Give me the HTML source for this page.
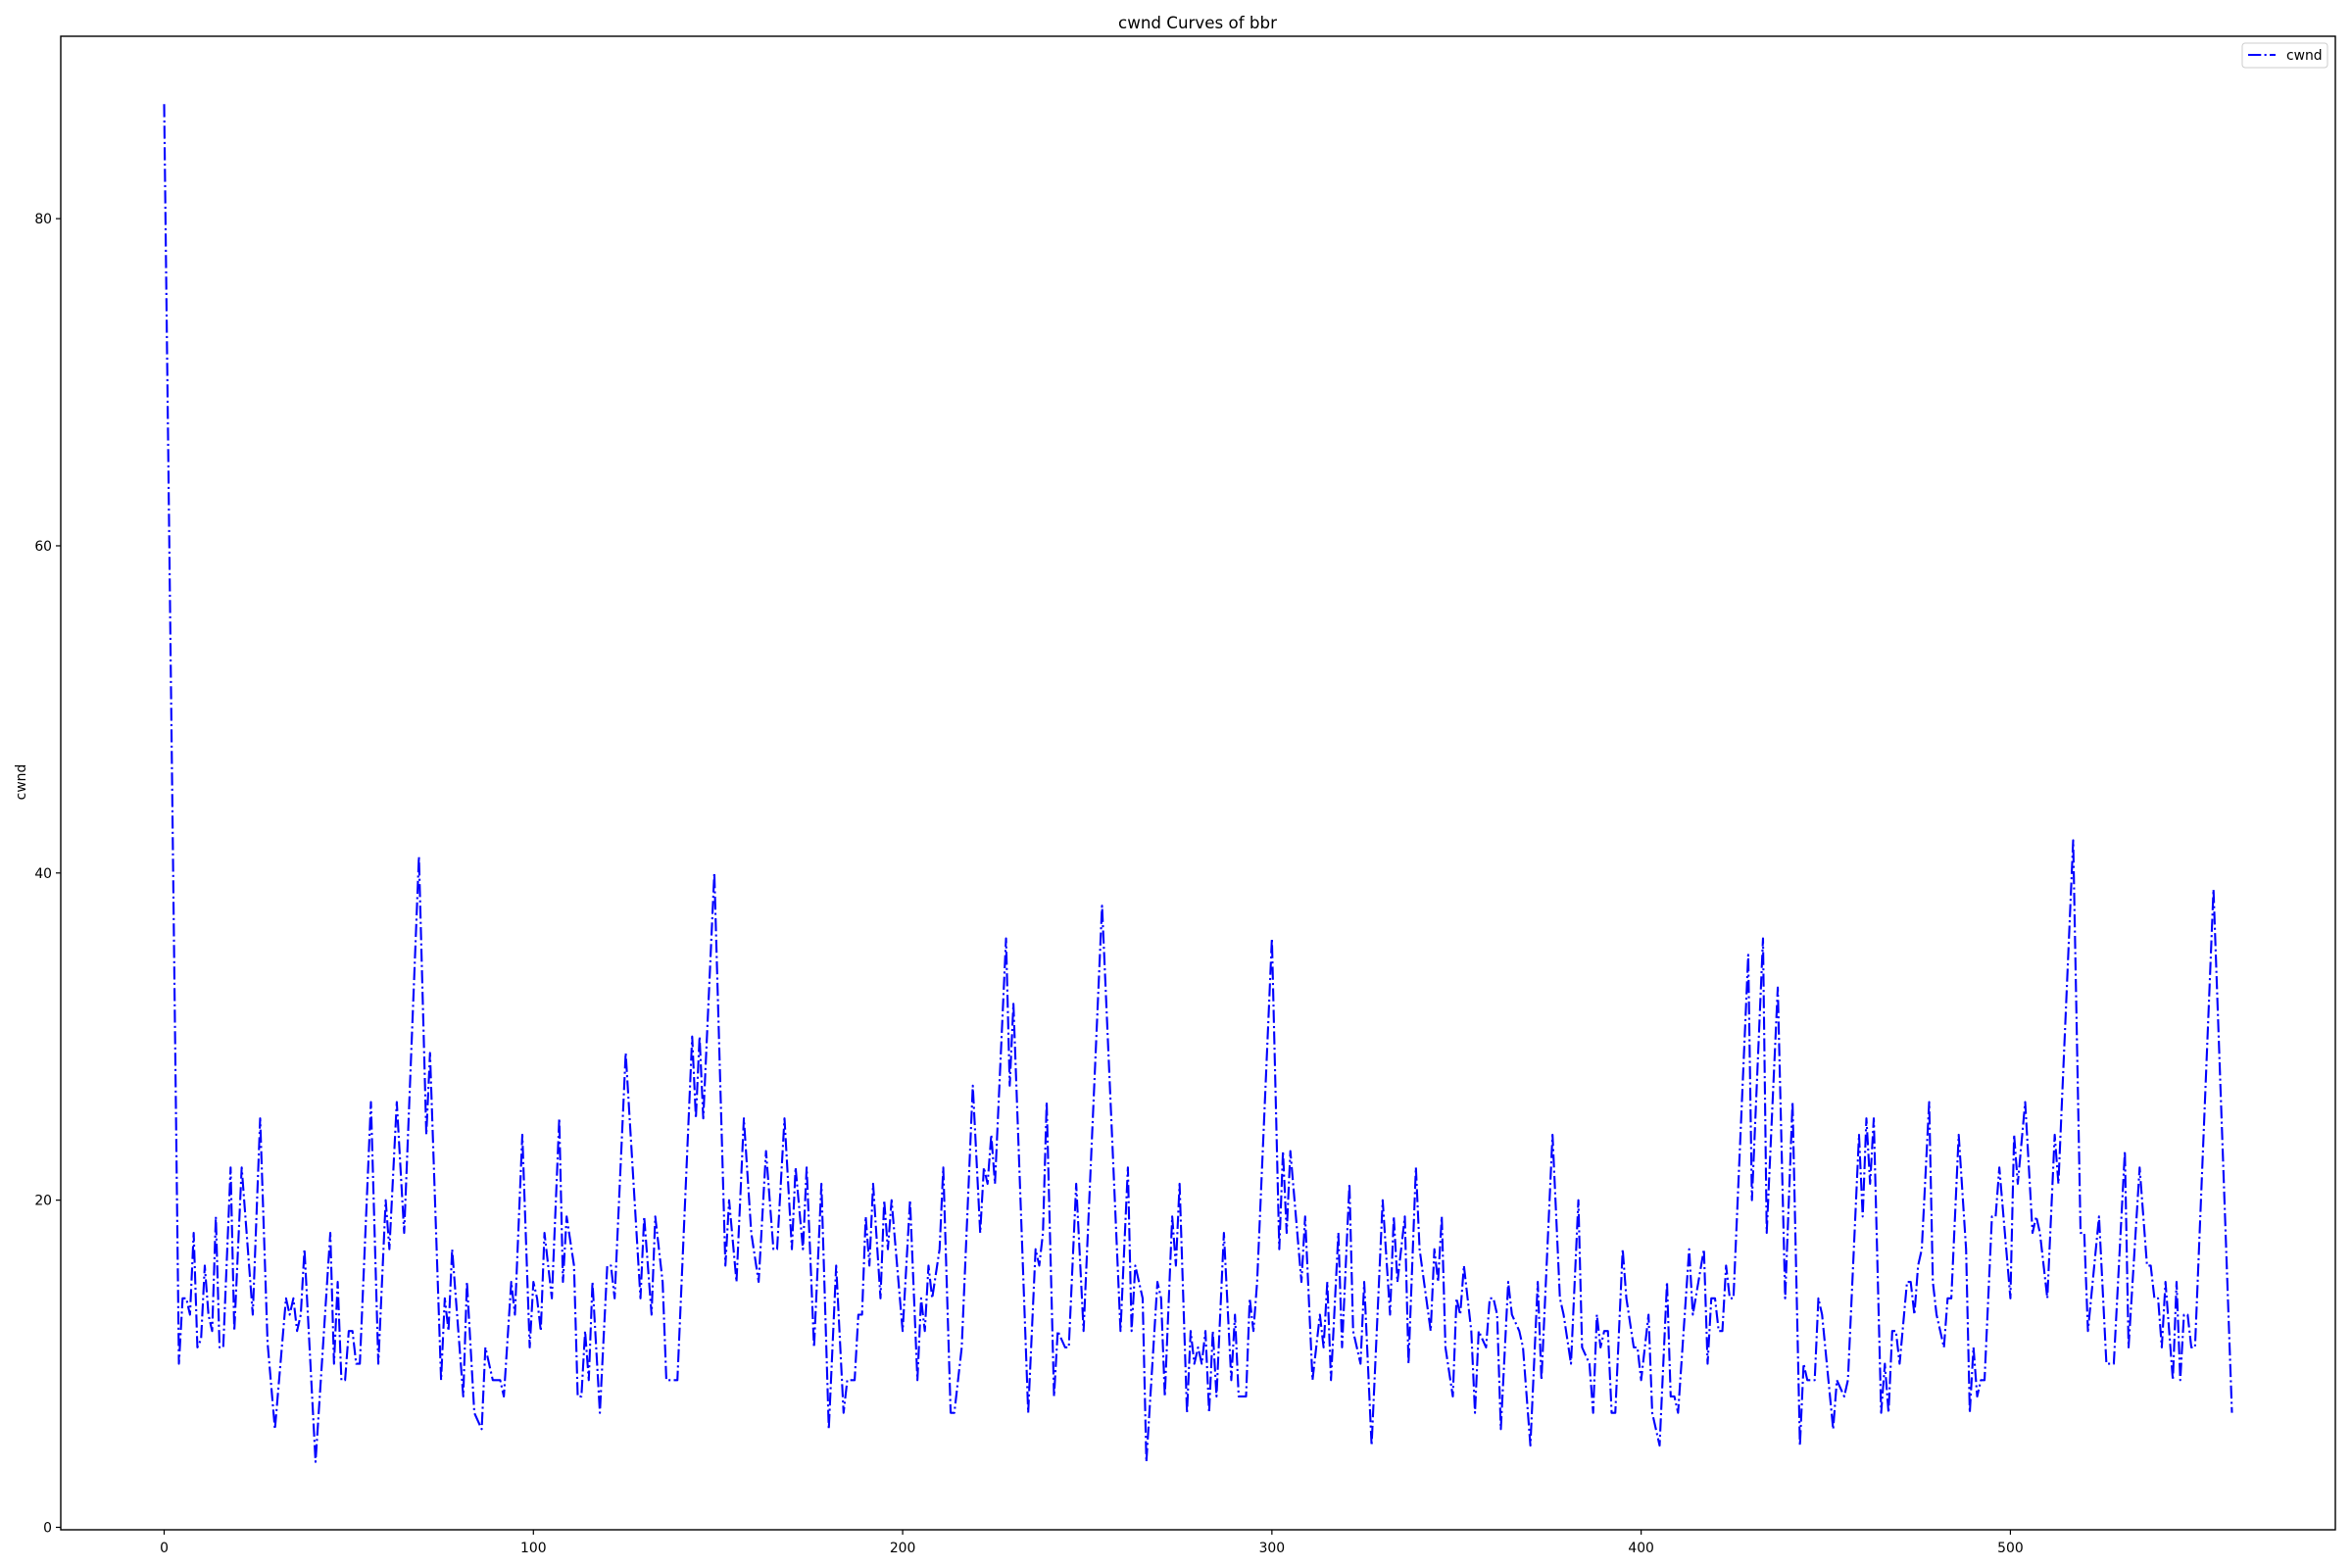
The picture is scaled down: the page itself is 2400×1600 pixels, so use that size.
<!DOCTYPE html>
<html><head><meta charset="utf-8"><title>cwnd Curves of bbr</title>
<style>
html,body{margin:0;padding:0;background:#fff;}
svg{display:block;font-family:"DejaVu Sans","Liberation Sans",sans-serif;}
</style></head>
<body>
<svg id="chart" width="2400" height="1600" viewBox="0 0 2400 1600">
  <rect x="0" y="0" width="2400" height="1600" fill="#fff"/>
  <text x="1222" y="29" text-anchor="middle" font-size="16.7" fill="#000">cwnd Curves of bbr</text>
  <text transform="translate(26,798) rotate(-90)" text-anchor="middle" font-size="13.9" fill="#000">cwnd</text>
  <g id="ticks"></g>
  <g id="series"></g>
  <rect x="62" y="37" width="2321" height="1524" fill="none" stroke="#000" stroke-width="1.4"/>
  <g>
    <rect x="2288" y="44" width="87" height="25" rx="3" fill="#fff" fill-opacity="0.8" stroke="#ccc" stroke-width="1"/>
    <line x1="2294" y1="56" x2="2322" y2="56" stroke="#0000ff" stroke-width="2.1" stroke-dasharray="13.3 3.3 2.1 3.3"/>
    <text x="2333" y="61" font-size="13.9" fill="#000">cwnd</text>
  </g>
</svg>
<script>
const xValues = [0,4,5,6,7,8,9,10,11,12,13,14,15,16,18,19,21,24,26,28,30,33,34,35,36,37,38,41,45,46,47,48,49,50,51,52,53,56,58,60,61,63,65,69,71,72,75,76,77,78,81,82,84,86,87,89,91,92,94,95,97,99,100,101,102,103,105,107,108,109,111,112,113,114,115,116,118,120,121,122,125,129,130,132,133,135,136,139,143,144,145,146,149,152,153,155,157,159,161,163,165,166,168,170,171,173,174,176,178,180,182,184,185,187,188,189,190,191,192,194,195,196,197,200,202,204,205,206,207,208,210,211,213,214,216,219,221,222,223,224,225,228,229,230,234,236,237,238,239,241,242,244,245,247,249,254,259,261,262,263,265,266,269,270,271,273,274,275,277,278,279,280,281,282,283,284,285,287,289,290,291,293,294,295,296,300,302,303,304,305,308,309,311,313,314,315,316,318,319,321,322,324,325,327,330,332,333,334,336,337,339,340,343,344,345,346,347,349,350,351,352,354,355,356,358,359,360,361,362,364,365,367,368,370,372,373,376,378,379,381,383,384,386,387,388,389,390,391,392,393,395,396,398,399,400,402,403,405,407,408,409,410,413,414,417,418,419,420,421,422,423,424,425,429,430,433,434,437,439,441,443,444,445,447,448,449,452,453,455,456,459,460,461,462,463,465,466,467,468,469,470,472,473,474,475,476,478,479,480,482,483,484,486,488,489,490,491,492,493,495,496,497,500,501,502,504,506,507,508,510,512,513,517,519,520,521,524,526,528,531,532,535,537,538,539,540,541,542,544,545,546,547,548,549,550,555,560];
const cwndValues = [87,10,14,14,13,18,11,11.5,16,13,12,19,11,11,22,12,22,13,25,11.3,6,14,13,14,12,13,17,4,18,10,15,9,9,12,12,10,10,26,10,20,17,26,18,41,24,29,9,14,12,17,8,15,7,6,11,9,9,8,15,13,24,11,15,14,12,18,14,25,15,19,16,8,8,12,9,15,7,16,16,14,29,14,19,13,19,15,9,9,30,25,30,25,40,16,20,15,25,18,15,23,17,17,25,17,22,17,22,11,21,6,16,7,9,9,13,13,19,16,21,14,20,17,20,12,20,9,14,12,16,14,17,22,7,7,11,27,18,22,21,24,21,36,27,32,7,17,16,18,26,8,12,11,11,21,12,38,12,22,12,16,14,4,15,14,8,19,16,21,7,12,10,11,10,12,7,12,8,18,9,13,8,8,14,12,15,36,17,23,18,23,15,19,9,13,11,15,9,18,11,21,12,10,15,5,20,13,19,15,19,10,22,17,12,17,15,19,11,8,14,13,16,12,7,12,11,14,14,13,6,15,13,12,11,5,15,9,24,14,13,10,20,11,10,7,13,11,12,12,7,7,17,14,11,11,9,13,7,5,15,8,8,7,17,13,17,10,14,14,12,12,16,14,14,35,20,36,18,33,14,26,5,10,9,9,14,13,6,9,8,9,24,19,25,21,25,7,10,7,12,12,10,15,15,13,16,17,26,15,13,11,14,14,24,17,7,11,8,9,9,19,19,22,14,24,21,26,18,19,18,14,24,21,42,18,18,12,19,10,10,23,11,22,16,16,14,14,11,15,9,15,9,13,13,11,11,39,7];
const xTickValues = [0,100,200,300,400,500];
const yTickValues = [0,20,40,60,80];

const NS = 'http://www.w3.org/2000/svg';
const X0 = 62, X1 = 2383, Y0 = 37, Y1 = 1561;
const xMin = -28, xMax = 588, yMin = -0.15, yMax = 91.15;
function xScale(v){ return X0 + (v - xMin) / (xMax - xMin) * (X1 - X0); }
function yScale(v){ return Y1 - (v - yMin) / (yMax - yMin) * (Y1 - Y0); }

const tickG = document.getElementById('ticks');
xTickValues.forEach(function(t){
  const px = xScale(t);
  const ln = document.createElementNS(NS,'line');
  ln.setAttribute('x1',px); ln.setAttribute('x2',px);
  ln.setAttribute('y1',Y1); ln.setAttribute('y2',Y1+5);
  ln.setAttribute('stroke','#000'); ln.setAttribute('stroke-width','1.2');
  
  
  tickG.appendChild(ln);
  const tx = document.createElementNS(NS,'text');
  tx.setAttribute('x',px); tx.setAttribute('y',Y1+23);
  tx.setAttribute('text-anchor','middle'); tx.setAttribute('font-size','13.9');
  tx.textContent = String(t);
  
  
  tickG.appendChild(tx);
});
yTickValues.forEach(function(t){
  const py = yScale(t);
  const ln = document.createElementNS(NS,'line');
  ln.setAttribute('x1',X0-5); ln.setAttribute('x2',X0);
  ln.setAttribute('y1',py); ln.setAttribute('y2',py);
  ln.setAttribute('stroke','#000'); ln.setAttribute('stroke-width','1.2');
  
  
  tickG.appendChild(ln);
  const tx = document.createElementNS(NS,'text');
  tx.setAttribute('x',X0-9); tx.setAttribute('y',py+5);
  tx.setAttribute('text-anchor','end'); tx.setAttribute('font-size','13.9');
  tx.textContent = String(t);
  
  
  tickG.appendChild(tx);
});

const pts = xValues.map(function(x,i){ return xScale(x).toFixed(2)+','+yScale(cwndValues[i]).toFixed(2); });
const path = document.createElementNS(NS,'polyline');
path.setAttribute('points', pts.join(' '));
path.setAttribute('fill','none');
path.setAttribute('stroke','#0000ff');
path.setAttribute('stroke-width','2.1');
path.setAttribute('stroke-dasharray','13.3 3.3 2.1 3.3');
path.setAttribute('stroke-linejoin','round');


document.getElementById('series').appendChild(path);
</script>
</body></html>
